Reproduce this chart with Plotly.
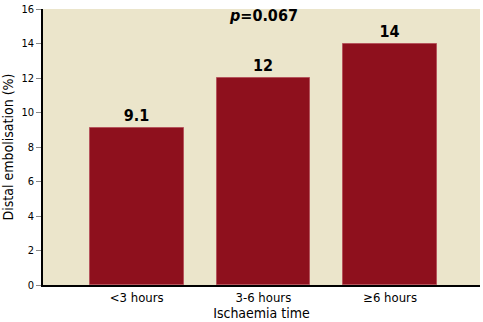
import plotly.graph_objects as go

categories = ["<3 hours", "3-6 hours", "≥6 hours"]
values = [9.1, 12, 14]
labels = ["9.1", "12", "14"]
y_ticks = [0, 2, 4, 6, 8, 10, 12, 14, 16]

FONT = "DejaVu Sans Condensed, Liberation Sans Narrow, sans-serif"

fig = go.Figure()
fig.add_trace(go.Bar(
    x=categories, y=values, width=0.74,
    marker=dict(color="#8e101d", line=dict(color="#b5545c", width=1)),
    text=labels, textposition="outside", cliponaxis=False,
    textfont=dict(family=FONT, size=16, color="black", weight="bold"),
))
fig.add_annotation(x=1, y=15.6, xref="x", yref="y",
                   text="<i>p</i>=0.067", showarrow=False,
                   font=dict(family=FONT, size=16, color="black", weight="bold"))
fig.update_layout(
    width=483, height=322,
    margin=dict(l=43, r=3, t=7, b=37),
    paper_bgcolor="white", plot_bgcolor="#ebe5cb",
    showlegend=False,
    bargap=0,
    xaxis=dict(range=[-0.74, 2.71], showline=True, linecolor="black", linewidth=1.5,
               ticks="", tickfont=dict(family=FONT, size=13, color="black"),
               title=dict(text="Ischaemia time", standoff=2,
                          font=dict(family=FONT, size=14, color="black"))),
    yaxis=dict(range=[0, 16], tickvals=y_ticks, showgrid=False, zeroline=False,
               showline=True, linecolor="black", linewidth=1.5,
               ticks="outside", ticklen=5, tickcolor="#888888",
               ticklabeloverflow="allow",
               tickfont=dict(family=FONT, size=11, color="black"),
               title=dict(text="Distal embolisation (%)", standoff=6,
                          font=dict(family=FONT, size=14, color="black"))),
)
fig.write_html("out.html")
